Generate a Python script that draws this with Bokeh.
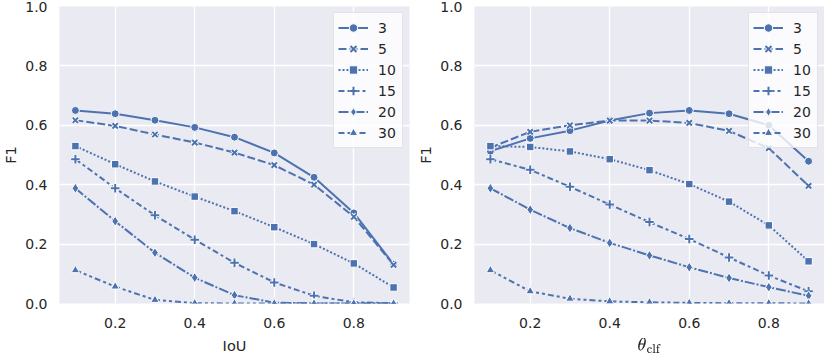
from bokeh.plotting import figure
from bokeh.layouts import row
from bokeh.models import Legend, LegendItem, FixedTicker, Range1d
from bokeh.embed import file_html
from bokeh.resources import INLINE

# ---- data ----
x_vals = [0.1, 0.2, 0.3, 0.4, 0.5, 0.6, 0.7, 0.8, 0.9]
series_names = ["3", "5", "10", "15", "20", "30"]

iou_3 = [0.650, 0.639, 0.617, 0.593, 0.560, 0.507, 0.425, 0.305, 0.132]
iou_5 = [0.617, 0.598, 0.569, 0.542, 0.508, 0.466, 0.400, 0.292, 0.130]
iou_10 = [0.530, 0.469, 0.411, 0.360, 0.311, 0.257, 0.200, 0.135, 0.054]
iou_15 = [0.486, 0.388, 0.297, 0.215, 0.137, 0.071, 0.026, 0.004, 0.001]
iou_20 = [0.388, 0.277, 0.171, 0.087, 0.028, 0.003, 0.000, 0.000, 0.000]
iou_30 = [0.112, 0.057, 0.012, 0.001, 0.000, 0.000, 0.000, 0.000, 0.000]

clf_3 = [0.513, 0.556, 0.582, 0.616, 0.641, 0.650, 0.639, 0.600, 0.479]
clf_5 = [0.525, 0.578, 0.600, 0.616, 0.616, 0.608, 0.581, 0.523, 0.396]
clf_10 = [0.530, 0.527, 0.512, 0.486, 0.449, 0.402, 0.343, 0.263, 0.142]
clf_15 = [0.486, 0.450, 0.393, 0.333, 0.274, 0.217, 0.155, 0.094, 0.041]
clf_20 = [0.388, 0.316, 0.254, 0.204, 0.162, 0.122, 0.086, 0.055, 0.026]
clf_30 = [0.112, 0.041, 0.016, 0.007, 0.004, 0.002, 0.001, 0.001, 0.000]

x_ticks = [0.2, 0.4, 0.6, 0.8]
y_ticks = [0.0, 0.2, 0.4, 0.6, 0.8, 1.0]

# ---- style ----
BLUE = "#4C72B0"
BG = "#EAEAF2"
TXT = "#262626"
FONT = "DejaVu Sans"
dashes = ["solid", "8 3", "2 2", "6 3 3 3", "10 2 2 2", "6 3 3 3 3 3"]
markers = ["circle", "x", "square", "cross", "diamond", "triangle"]
msizes = [8, 7.5, 7.5, 8.5, 10, 8.5]


def make_fig(series, xlabel, left_border, right_border):
    p = figure(frame_width=350, frame_height=297, output_backend="svg",
               toolbar_location=None, x_range=Range1d(0.06, 0.94),
               y_range=Range1d(0.0, 1.0),
               min_border_left=left_border, min_border_right=right_border,
               min_border_top=6, min_border_bottom=4)
    p.background_fill_color = BG
    p.border_fill_color = "white"
    p.outline_line_color = None
    for ax in (p.xaxis[0], p.yaxis[0]):
        ax.axis_line_color = None
        ax.major_tick_line_color = None
        ax.minor_tick_line_color = None
        ax.major_tick_out = 0
        ax.major_tick_in = 0
        ax.minor_tick_out = 0
        ax.minor_tick_in = 0
        ax.major_label_text_font = FONT
        ax.major_label_text_font_size = "14px"
        ax.major_label_text_color = TXT
        ax.axis_label_text_font = FONT
        ax.axis_label_text_font_size = "14.5px"
        ax.axis_label_text_font_style = "normal"
        ax.axis_label_text_color = TXT
    p.xaxis.ticker = FixedTicker(ticks=x_ticks)
    p.yaxis.ticker = FixedTicker(ticks=y_ticks)
    p.xaxis.major_label_overrides = {t: f"{t:.1f}" for t in x_ticks}
    p.yaxis.major_label_overrides = {t: f"{t:.1f}" for t in y_ticks}
    p.xaxis.major_label_standoff = 14
    p.yaxis.major_label_standoff = 12
    p.xaxis.axis_label_standoff = 7
    p.yaxis.axis_label_standoff = 3
    p.xaxis.axis_label = xlabel
    p.yaxis.axis_label = "F1"
    p.grid.grid_line_color = "white"
    p.grid.grid_line_width = 1.3
    p.xgrid.ticker = FixedTicker(ticks=x_ticks)
    p.ygrid.ticker = FixedTicker(ticks=y_ticks)

    items = []
    for name, ys, dash, mk, ms in zip(series_names, series, dashes, markers, msizes):
        rs = []
        rs.append(p.line(x_vals, ys, line_color=BLUE, line_width=2, line_dash=dash))
        if mk in ("x", "cross"):
            rs.append(p.scatter(x_vals, ys, marker=mk, size=ms, line_color="white",
                                line_width=3.8))
            rs.append(p.scatter(x_vals, ys, marker=mk, size=ms, line_color=BLUE,
                                line_width=2))
        else:
            rs.append(p.scatter(x_vals, ys, marker=mk, size=ms, fill_color=BLUE,
                                line_color="white", line_width=1))
        items.append(LegendItem(label=name, renderers=rs))

    leg = Legend(items=items, location="top_right")
    leg.background_fill_color = "white"
    leg.background_fill_alpha = 0.8
    leg.border_line_color = "#CCCCCC"
    leg.border_line_width = 1
    leg.label_text_font = FONT
    leg.label_text_font_size = "14px"
    leg.label_text_color = TXT
    leg.glyph_width = 30
    leg.glyph_height = 21
    leg.label_height = 21
    leg.label_standoff = 10
    leg.spacing = 0
    leg.padding = 4
    leg.margin = 6
    p.add_layout(leg)
    return p


p1 = make_fig([iou_3, iou_5, iou_10, iou_15, iou_20, iou_30], "IoU", 51, 6)
p2 = make_fig([clf_3, clf_5, clf_10, clf_15, clf_20, clf_30],
              r"$$\theta_{\mathrm{clf}}$$", 53, 0)

layout = row(p1, p2)
open("out.html", "w").write(file_html(layout, INLINE))
